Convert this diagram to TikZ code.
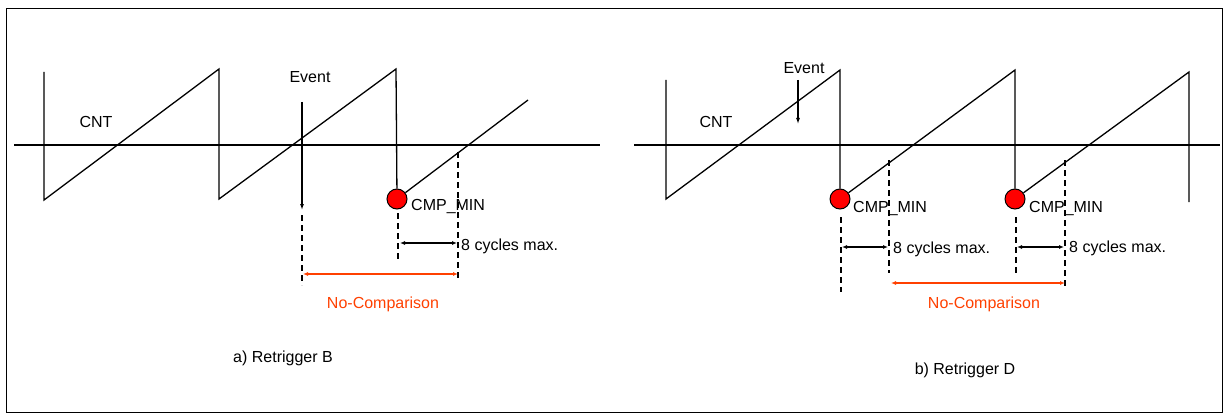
\documentclass[tikz,border=0pt]{standalone}
\usepackage{fontspec}
\setmainfont{Liberation Sans}
\usetikzlibrary{arrows.meta}
\definecolor{nocmp}{RGB}{255,64,0}
\begin{document}
\begin{tikzpicture}[x=1pt,y=-1pt, font=\fontsize{16}{19}\selectfont,
  wave/.style={line width=1.3pt},
  axisline/.style={line width=1.3pt},
  guide/.style={dash pattern=on 6pt off 4pt, line width=1.1pt},
  cyc/.style={{Latex[length=5pt,width=4pt]}-{Latex[length=5pt,width=4pt]}, line width=1.1pt},
  nocmparrow/.style={{Latex[length=5pt,width=4pt]}-{Latex[length=5pt,width=4pt]}, draw=nocmp, line width=1.5pt},
  evarrow/.style={-{Latex[length=6pt,width=4pt]}, line width=1.1pt},
  cmpdot/.style={circle, fill=red, draw=black, line width=1pt, minimum size=20pt, inner sep=0pt},
  lbl/.style={inner sep=0pt},
  redlbl/.style={inner sep=0pt, text=nocmp}]
\useasboundingbox (0,0) rectangle (1225,417);
\draw[line width=1pt] (6,9) rectangle (1222,412);

% ---------------- a) Retrigger B ----------------
\coordinate (aAxL) at (14,145);
\coordinate (aAxR) at (600,145);
\draw[axisline] (aAxL) -- (aAxR);
\node[cmpdot] (aDot) at (397,199) {};
\coordinate (a1t) at (44,72);
\coordinate (a1b) at (44,200);
\coordinate (a2t) at (219,69);
\coordinate (a2b) at (219,199);
\coordinate (a3t) at (396,69);
\coordinate (a4t) at (528,100);
\draw[wave] (a1t) -- (a1b) -- (a2t) -- (a2b) -- (a3t) -- (aDot);
\draw[wave] (aDot) -- (a4t);

\node[lbl] (aCNT) at (96,122) {CNT};
\node[lbl] (aEvt) at (310,77) {Event};
\coordinate (aEvTop) at (302,102);
\coordinate (aEvBot) at (302,210);
\draw[evarrow] (aEvTop) -- (aEvBot);

\node[lbl, anchor=west] (aCmp) at (411,207) {CMP\_MIN};

\coordinate (aG1t) at (302,215);
\coordinate (aG1b) at (302,285);
\coordinate (aG2t) at (398,213);
\coordinate (aG2b) at (398,262);
\coordinate (aG3t) at (458,152);
\coordinate (aG3b) at (458,279);
\draw[guide] (aG1t) -- (aG1b);
\draw[guide] (aG2t) -- (aG2b);
\draw[guide] (aG3t) -- (aG3b);

\coordinate (aC1) at (400,243);
\coordinate (aC2) at (457,243);
\draw[cyc] (aC1) -- (aC2);
\node[lbl, anchor=west] (aCyc) at (461,246) {8 cycles max.};

\coordinate (aN1) at (303,274);
\coordinate (aN2) at (458,274);
\draw[nocmparrow] (aN1) -- (aN2);
\node[redlbl] (aNo) at (383,304) {No-Comparison};

\node[lbl] (aCap) at (283,358) {a) Retrigger B};

% ---------------- b) Retrigger D ----------------
\coordinate (bAxL) at (634,145);
\coordinate (bAxR) at (1220,145);
\draw[axisline] (bAxL) -- (bAxR);
\node[cmpdot] (bDot1) at (840,199) {};
\node[cmpdot] (bDot2) at (1015,199) {};
\coordinate (b1t) at (666,80);
\coordinate (b1b) at (666,199);
\coordinate (b2t) at (840,70);
\coordinate (b3t) at (1015,70);
\coordinate (b4t) at (1189,72);
\coordinate (b4b) at (1189,202);
\draw[wave] (b1t) -- (b1b) -- (b2t) -- (bDot1);
\draw[wave] (bDot1) -- (b3t) -- (bDot2);
\draw[wave] (bDot2) -- (b4t) -- (b4b);

\node[lbl] (bCNT) at (716,122) {CNT};
\node[lbl] (bEvt) at (804,68) {Event};
\coordinate (bEvTop) at (798,80);
\coordinate (bEvBot) at (798,124);
\draw[evarrow] (bEvTop) -- (bEvBot);

\node[lbl, anchor=west] (bCmp1) at (853,209) {CMP\_MIN};
\node[lbl, anchor=west] (bCmp2) at (1029,209) {CMP\_MIN};

\coordinate (bG1t) at (841,217);
\coordinate (bG1b) at (841,292);
\coordinate (bG2t) at (889,160);
\coordinate (bG2b) at (889,273);
\coordinate (bG3t) at (1016,217);
\coordinate (bG3b) at (1016,273);
\coordinate (bG4t) at (1065,160);
\coordinate (bG4b) at (1065,288);
\draw[guide] (bG1t) -- (bG1b);
\draw[guide] (bG2t) -- (bG2b);
\draw[guide] (bG3t) -- (bG3b);
\draw[guide] (bG4t) -- (bG4b);

\coordinate (bC1) at (842,247);
\coordinate (bC2) at (888,247);
\coordinate (bC3) at (1017,247);
\coordinate (bC4) at (1064,247);
\draw[cyc] (bC1) -- (bC2);
\draw[cyc] (bC3) -- (bC4);
\node[lbl, anchor=west] (bCyc1) at (893,249) {8 cycles max.};
\node[lbl, anchor=west] (bCyc2) at (1069,248) {8 cycles max.};

\coordinate (bN1) at (891,283);
\coordinate (bN2) at (1065,283);
\draw[nocmparrow] (bN1) -- (bN2);
\node[redlbl] (bNo) at (984,304) {No-Comparison};

\node[lbl] (bCap) at (965,370) {b) Retrigger D};
\end{tikzpicture}
\end{document}
